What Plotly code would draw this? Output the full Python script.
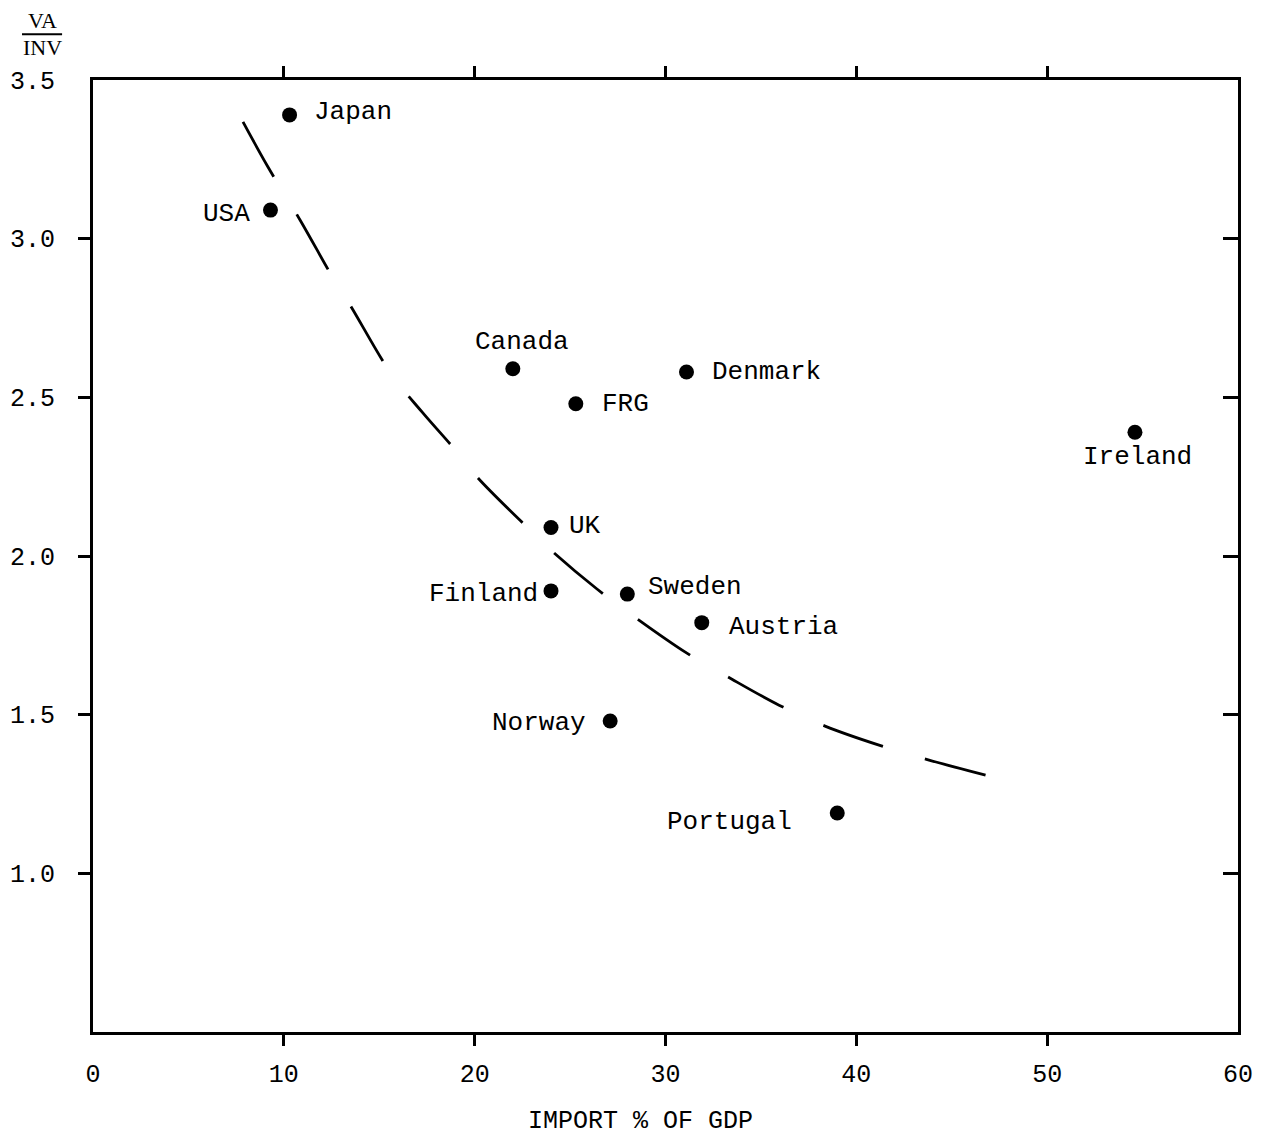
import plotly.graph_objects as go

# ---- data ----
countries = ["Japan", "USA", "Canada", "Denmark", "FRG", "Ireland", "UK",
             "Finland", "Sweden", "Austria", "Norway", "Portugal"]
import_pct = [10.3, 9.3, 22.0, 31.1, 25.3, 54.6, 24.0, 24.0, 28.0, 31.9, 27.1, 39.0]
va_inv = [3.39, 3.09, 2.59, 2.58, 2.48, 2.39, 2.09, 1.89, 1.88, 1.79, 1.48, 1.19]

# fitted (dashed) curve
curve_x = [7.86, 9.17, 10.85, 12.58, 13.47, 15.67, 17.24, 19.07, 20.17, 22.90,
           24.10, 26.41, 28.24, 31.12, 33.27, 35.95, 38.36, 41.19, 43.81, 47.11]
curve_y = [3.368, 3.226, 3.059, 2.876, 2.791, 2.570, 2.454, 2.328, 2.246, 2.082,
           2.013, 1.896, 1.814, 1.694, 1.619, 1.530, 1.464, 1.404, 1.357, 1.304]

x_label_vals = [0, 10, 20, 30, 40, 50, 60]
x_tick_marks = [10, 20, 30, 40, 50]
y_label_vals = [1.0, 1.5, 2.0, 2.5, 3.0, 3.5]
y_tick_labels = ["1.0", "1.5", "2.0", "2.5", "3.0", "3.5"]
y_tick_marks = [1.0, 1.5, 2.0, 2.5, 3.0]

# label placement (pixel offsets from each point): xanchor, xshift, yshift
label_pos = {
    "Japan": ("left", 22, 3),
    "USA": ("right", -18, -4),
    "Canada": ("center", 9, 27),
    "Denmark": ("left", 24, 0),
    "FRG": ("left", 24, 0),
    "Ireland": ("center", 3, -25),
    "UK": ("left", 16, 1),
    "Finland": ("right", -11, -3),
    "Sweden": ("left", 19, 7),
    "Austria": ("left", 25, -4),
    "Norway": ("right", -22, -2),
    "Portugal": ("right", -43, -9),
}

FONT = "Liberation Mono, Courier New, monospace"
BLACK = "black"
fig = go.Figure()

fig.add_trace(go.Scatter(
    x=curve_x, y=curve_y, mode="lines",
    line=dict(color=BLACK, width=2.8, dash="63px,44px", shape="spline"),
    hoverinfo="skip", showlegend=False))

fig.add_trace(go.Scatter(
    x=import_pct, y=va_inv, mode="markers",
    marker=dict(color=BLACK, size=15),
    text=countries, showlegend=False))

# invisible traces that carry the tick-mark axes
fig.add_trace(go.Scatter(x=[None], y=[None], xaxis="x2", yaxis="y2", showlegend=False))
fig.add_trace(go.Scatter(x=[None], y=[None], xaxis="x2", yaxis="y3", showlegend=False))

for c, xv, yv in zip(countries, import_pct, va_inv):
    xa, xs, ys = label_pos[c]
    fig.add_annotation(x=xv, y=yv, text=c, showarrow=False, xanchor=xa,
                       yanchor="middle", xshift=xs, yshift=ys,
                       font=dict(family=FONT, size=26, color=BLACK))

common = dict(showgrid=False, zeroline=False, automargin=False)
fig.update_layout(
    width=1254, height=1127,
    margin=dict(l=85, r=24, t=72, b=103),
    paper_bgcolor="white", plot_bgcolor="white",
    font=dict(family=FONT, size=24, color=BLACK),
    # label axes (no tick marks)
    xaxis=dict(range=[0, 60], tickvals=x_label_vals, ticks="",
               showline=True, linewidth=3, linecolor=BLACK, mirror=True,
               tickfont=dict(family=FONT, size=25), ticklabelstandoff=17,
               **common),
    yaxis=dict(range=[0.5, 3.5], tickvals=y_label_vals, ticktext=y_tick_labels,
               ticks="", showline=True, linewidth=3, linecolor=BLACK,
               mirror=True, tickfont=dict(family=FONT, size=25),
               ticklabelstandoff=30, **common),
    # tick-mark axes
    xaxis2=dict(range=[0, 60], overlaying="x", anchor="y2", side="bottom",
                tickvals=x_tick_marks, ticks="outside", ticklen=13,
                tickwidth=3, tickcolor=BLACK, mirror="allticks",
                showline=False, showticklabels=False, **common),
    yaxis2=dict(range=[0.5, 3.5], overlaying="y", anchor="x2", side="left",
                tickvals=y_tick_marks, ticks="outside", ticklen=14,
                tickwidth=3, tickcolor=BLACK, showline=False,
                showticklabels=False, **common),
    yaxis3=dict(range=[0.5, 3.5], overlaying="y", anchor="x2", side="right",
                tickvals=y_tick_marks, ticks="inside", ticklen=15,
                tickwidth=3, tickcolor=BLACK, showline=False,
                showticklabels=False, **common),
)

# x-axis title
fig.add_annotation(x=0.4786, y=-0.094, xref="paper", yref="paper",
                   text="IMPORT % OF GDP", showarrow=False, xanchor="center",
                   yanchor="middle", font=dict(family=FONT, size=25, color=BLACK))

# y-axis title as a fraction VA / INV
fig.add_annotation(x=-0.0445, y=1.062, xref="paper", yref="paper", text="VA",
                   showarrow=False, xanchor="center", yanchor="middle",
                   font=dict(family="Liberation Serif, serif", size=22, color=BLACK))
fig.add_annotation(x=-0.0445, y=1.034, xref="paper", yref="paper", text="INV",
                   showarrow=False, xanchor="center", yanchor="middle",
                   font=dict(family="Liberation Serif, serif", size=22, color=BLACK))
fig.add_shape(type="line", xref="paper", yref="paper",
              x0=-0.062, x1=-0.027, y0=1.048, y1=1.048,
              line=dict(color=BLACK, width=2))

fig.write_html("out.html")
